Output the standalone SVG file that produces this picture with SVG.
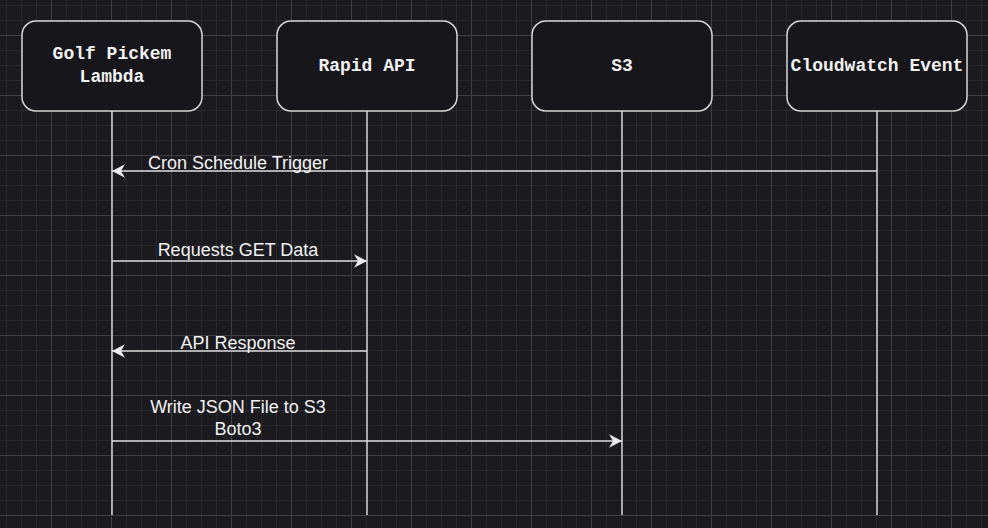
<svg xmlns="http://www.w3.org/2000/svg" width="988" height="528" viewBox="0 0 988 528">
  <style>
    .node rect { fill: #17161a; stroke: #d6d6d6; stroke-width: 1.5; }
    .ntext { font-family: "Liberation Mono", "Courier New", monospace; font-weight: bold; font-size: 18px; fill: #f2f2f2; text-anchor: middle; }
    .life { stroke: #d6d6d6; stroke-width: 1.5; fill: none; }
    .msg { stroke: #dedede; stroke-width: 1.5; fill: none; }
    .etext { font-family: "Liberation Sans", Arial, Helvetica, sans-serif; font-size: 18px; fill: #f2f2f2; text-anchor: middle; }
  </style>
  <defs>
    <pattern id="minor" patternUnits="userSpaceOnUse" x="6" y="5" width="15" height="15">
      <rect x="0" y="0" width="1" height="15" fill="#28272c"/>
      <rect x="0" y="0" width="15" height="1" fill="#28272c"/>
    </pattern>
    <pattern id="major" patternUnits="userSpaceOnUse" x="51" y="35" width="60" height="60">
      <rect x="0" y="0" width="1" height="60" fill="#403f44"/>
      <rect x="0" y="0" width="60" height="1" fill="#403f44"/>
    </pattern>
    <marker id="arrow" viewBox="0 0 14 14" refX="13" refY="7" markerWidth="14" markerHeight="14" markerUnits="userSpaceOnUse" orient="auto">
      <path d="M13 7 L0 0.2 L4 7 L0 13.8 Z" fill="#ededed"/>
    </marker>
  </defs>
  <rect x="0" y="0" width="988" height="528" fill="#1b1a1f"/>
  <rect x="0" y="0" width="988" height="528" fill="url(#minor)"/>
  <rect x="0" y="0" width="988" height="528" fill="url(#major)"/>

  <g id="lifelines">
    <line class="life" x1="112" y1="111" x2="112" y2="515"/>
    <line class="life" x1="367" y1="111" x2="367" y2="515"/>
    <line class="life" x1="622" y1="111" x2="622" y2="515"/>
    <line class="life" x1="877" y1="111" x2="877" y2="515"/>
  </g>

  <g id="node-lambda" class="node">
    <rect x="22" y="21" width="180" height="90" rx="14" ry="14"/>
    <text class="ntext" x="112" y="59">Golf Pickem</text>
    <text class="ntext" x="112" y="82">Lambda</text>
  </g>
  <g id="node-rapidapi" class="node">
    <rect x="277" y="21" width="180" height="90" rx="14" ry="14"/>
    <text class="ntext" x="367" y="71">Rapid API</text>
  </g>
  <g id="node-s3" class="node">
    <rect x="532" y="21" width="180" height="90" rx="14" ry="14"/>
    <text class="ntext" x="622" y="71">S3</text>
  </g>
  <g id="node-cloudwatch" class="node">
    <rect x="787" y="21" width="180" height="90" rx="14" ry="14"/>
    <text class="ntext" x="877" y="71">Cloudwatch Event</text>
  </g>

  <g id="connectors">
    <line class="msg" x1="877" y1="171" x2="112" y2="171" marker-end="url(#arrow)"/>
    <text class="etext" x="238" y="169">Cron Schedule Trigger</text>

    <line class="msg" x1="112" y1="261" x2="367" y2="261" marker-end="url(#arrow)"/>
    <text class="etext" x="238" y="256">Requests GET Data</text>

    <line class="msg" x1="367" y1="351" x2="112" y2="351" marker-end="url(#arrow)"/>
    <text class="etext" x="238" y="349">API Response</text>

    <line class="msg" x1="112" y1="441" x2="622" y2="441" marker-end="url(#arrow)"/>
    <text class="etext" x="238" y="413">Write JSON File to S3</text>
    <text class="etext" x="238" y="435">Boto3</text>
  </g>
</svg>
